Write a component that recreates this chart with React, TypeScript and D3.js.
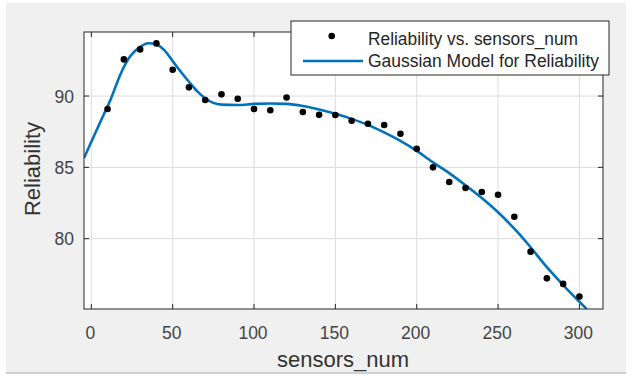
import React from "react";
import * as d3 from "d3";

const sensorsNum = [10, 20, 30, 40, 50, 60, 70, 80, 90, 100, 110, 120, 130, 140, 150, 160, 170, 180, 190, 200, 210, 220, 230, 240, 250, 260, 270, 280, 290, 300];
const reliability = [89.09, 92.57, 93.27, 93.69, 91.84, 90.61, 89.72, 90.12, 89.81, 89.09, 89.0, 89.9, 88.88, 88.68, 88.67, 88.27, 88.06, 87.97, 87.36, 86.31, 85.0, 83.97, 83.55, 83.27, 83.08, 81.54, 79.09, 77.22, 76.83, 75.94];

const fitX = [-4.5, 0, 6, 12, 18, 24, 30, 35, 40, 45, 50, 55, 60, 65, 70, 75, 80, 90, 100, 110, 120, 130, 140, 150, 160, 170, 180, 190, 200, 210, 220, 230, 240, 250, 260, 270, 280, 290, 300, 304.5];
const fitY = [85.65, 86.8, 88.3, 89.8, 91.55, 92.8, 93.45, 93.7, 93.62, 93.2, 92.45, 91.7, 91.0, 90.35, 89.85, 89.52, 89.4, 89.37, 89.45, 89.48, 89.45, 89.3, 89.05, 88.75, 88.4, 87.98, 87.45, 86.85, 86.15, 85.35, 84.6, 83.75, 82.85, 81.85, 80.7, 79.4, 78.0, 76.75, 75.58, 75.07];

const xTicks = [0, 50, 100, 150, 200, 250, 300];
const yTicks = [80, 85, 90];
const xDomain = [-4.5, 314.5];
const yDomain = [75.07, 94.49];

const legendLabels = ["Reliability vs. sensors_num", "Gaussian Model for Reliability"];

export default function App() {
  const W = 636, H = 377;
  const L = 84, R = 603, T = 32, B = 309;
  const x = d3.scaleLinear().domain(xDomain).range([L, R]);
  const y = d3.scaleLinear().domain(yDomain).range([B, T]);
  const fitPts = fitX.map((v, i) => [v, fitY[i]] as [number, number]);
  const line = d3.line<[number, number]>().x(d => x(d[0])).y(d => y(d[1])).curve(d3.curveMonotoneX);
  const axisColor = "#262626";
  const font = "'Liberation Sans', Arial, sans-serif";
  const tickLen = 5;
  return (
    <svg width={W} height={H} style={{ position: "absolute", left: 0, top: 0 }} fontFamily={font}>
      <rect x={0} y={0} width={W} height={H} fill="#ffffff" />
      <rect x={6} y={3} width={620} height={370} fill="#f0f0f0" />
      <line x1={6} x2={626} y1={373} y2={373} stroke="#c4c4c4" strokeWidth={1.5} />
      <defs>
        <clipPath id="plotclip">
          <rect x={L} y={T} width={R - L} height={B - T} />
        </clipPath>
      </defs>
      <rect x={L} y={T} width={R - L} height={B - T} fill="#ffffff" />
      {xTicks.map(t => (
        <line key={"gx" + t} x1={x(t)} x2={x(t)} y1={T} y2={B} stroke="#dcdcdc" strokeWidth={1} />
      ))}
      {yTicks.map(t => (
        <line key={"gy" + t} x1={L} x2={R} y1={y(t)} y2={y(t)} stroke="#dcdcdc" strokeWidth={1} />
      ))}
      <g clipPath="url(#plotclip)">
        <path d={line(fitPts) || ""} fill="none" stroke="#0072BD" strokeWidth={2.6} />
        {sensorsNum.map((s, i) => (
          <circle key={"p" + s} cx={x(s)} cy={y(reliability[i])} r={3.3} fill="#000" />
        ))}
      </g>
      {xTicks.map(t => (
        <g key={"tx" + t}>
          <line x1={x(t)} x2={x(t)} y1={B} y2={B - tickLen} stroke={axisColor} />
          <line x1={x(t)} x2={x(t)} y1={T} y2={T + tickLen} stroke={axisColor} />
          <text x={x(t) - 1} y={338.5} textAnchor="middle" fontSize={17.5} fill="#444">{t}</text>
        </g>
      ))}
      {yTicks.map(t => (
        <g key={"ty" + t}>
          <line x1={L} x2={L + tickLen} y1={y(t)} y2={y(t)} stroke={axisColor} />
          <line x1={R} x2={R - tickLen} y1={y(t)} y2={y(t)} stroke={axisColor} />
          <text x={74} y={y(t) + 6.5} textAnchor="end" fontSize={17.5} fill="#444">{t}</text>
        </g>
      ))}
      <rect x={L} y={T} width={R - L} height={B - T} fill="none" stroke={axisColor} strokeWidth={1} />
      <text x={343} y={366.5} textAnchor="middle" fontSize={22} fill="#333">sensors_num</text>
      <text transform="translate(40,169) rotate(-90)" textAnchor="middle" fontSize={22} fill="#333">Reliability</text>
      <rect x={291} y={21} width={318} height={54} fill="#ffffff" stroke={axisColor} strokeWidth={1} />
      <circle cx={331.7} cy={36} r={3.3} fill="#000" />
      <text x={368} y={44.5} fontSize={17.5} fill="#262626" textLength={210} lengthAdjust="spacingAndGlyphs">{legendLabels[0]}</text>
      <line x1={303} x2={363} y1={61} y2={61} stroke="#0072BD" strokeWidth={2.6} />
      <text x={368} y={66.5} fontSize={17.5} fill="#262626" textLength={231} lengthAdjust="spacingAndGlyphs">{legendLabels[1]}</text>
    </svg>
  );
}
